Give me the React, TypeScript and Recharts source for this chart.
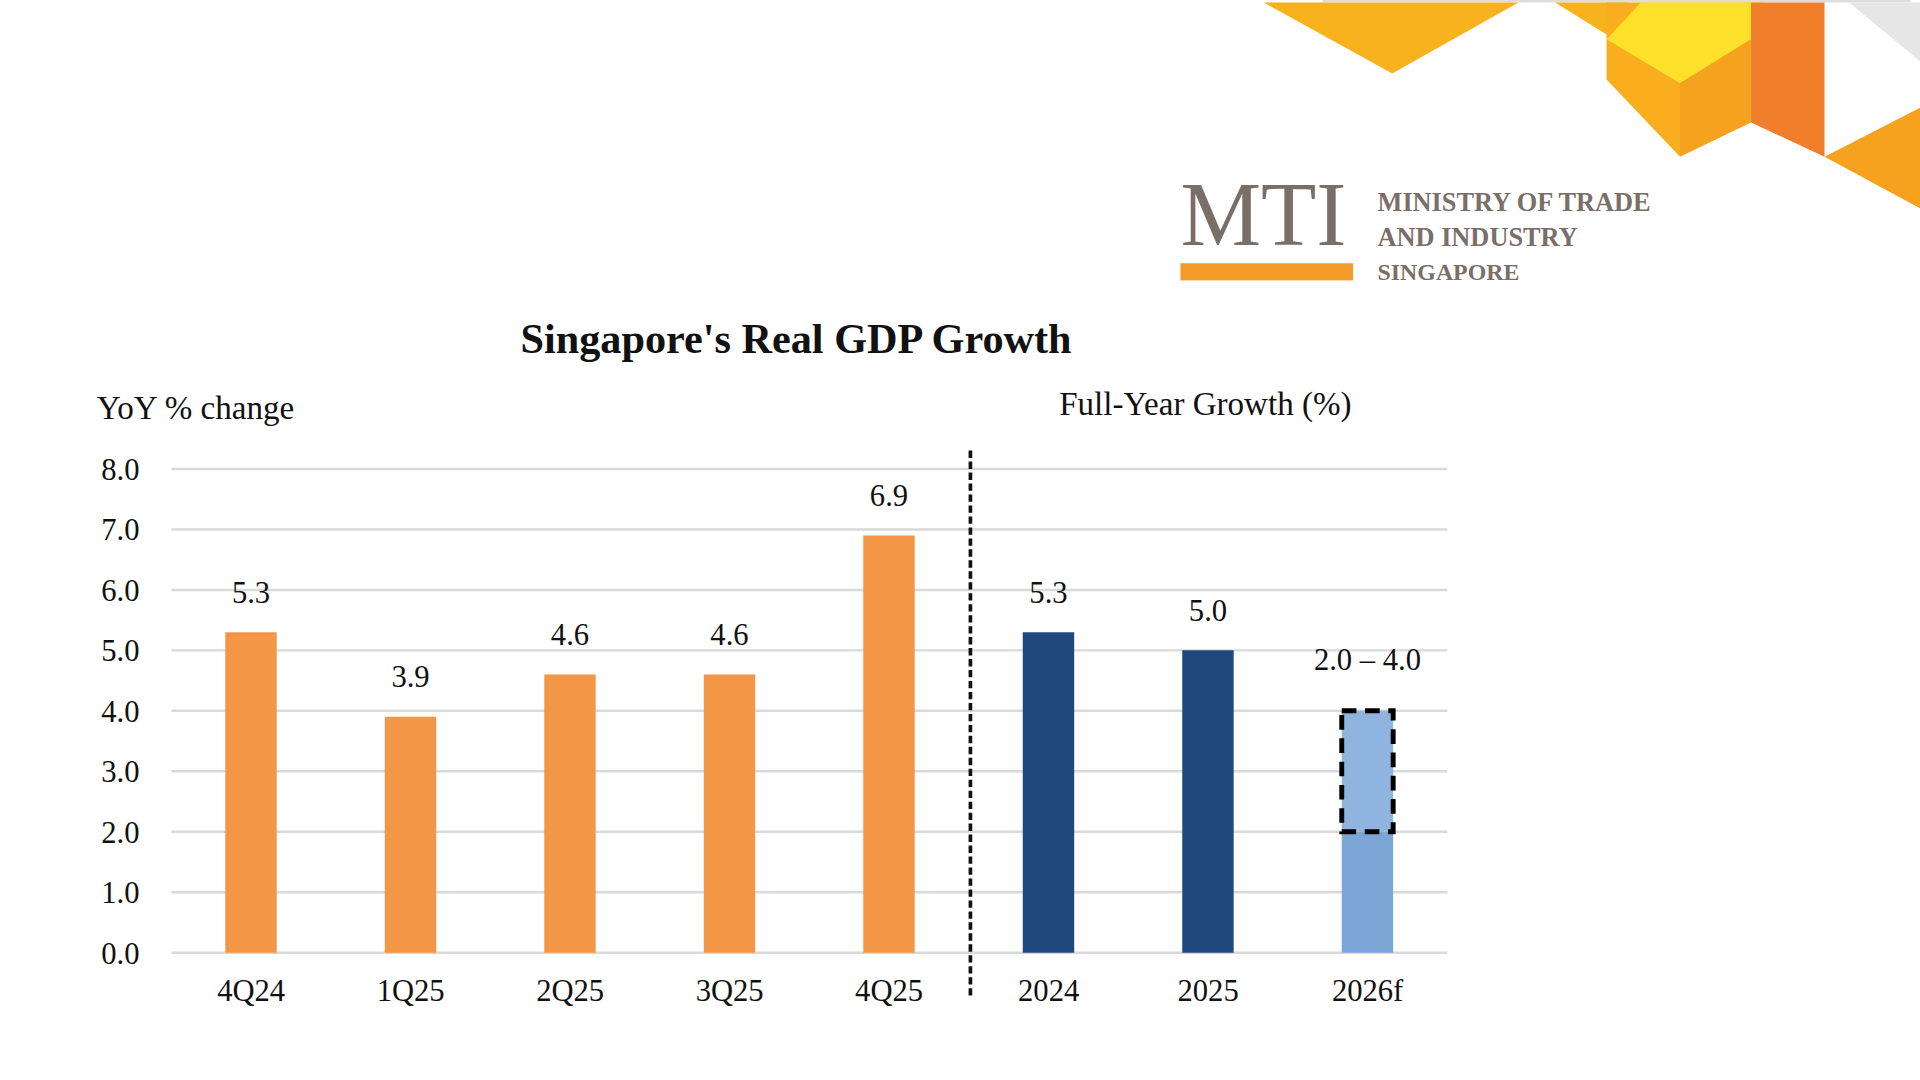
import React from "react";
import { BarChart, Bar, XAxis, YAxis, CartesianGrid, Cell, LabelList } from "recharts";

const categories = ["4Q24", "1Q25", "2Q25", "3Q25", "4Q25", "2024", "2025", "2026f"];
const baseValues = [5.3, 3.9, 4.6, 4.6, 6.9, 5.3, 5.0, 2.0];
const rangeValues = [0, 0, 0, 0, 0, 0, 0, 2.0];
const labelTexts = ["5.3", "3.9", "4.6", "4.6", "6.9", "5.3", "5.0", "2.0 – 4.0"];
const yTicks = [0, 1, 2, 3, 4, 5, 6, 7, 8];
const baseColors = ["#F39646", "#F39646", "#F39646", "#F39646", "#F39646", "#1F497D", "#1F497D", "#7BA6D6"];

const data = categories.map((c, i) => ({ name: c, base: baseValues[i], range: rangeValues[i], label: labelTexts[i] }));
const rangeLabels = data.filter((d) => d.range > 0).map((d) => d.label);
const font = "'Liberation Serif', 'Times New Roman', serif";

const TopLabel = (props: any) => {
  const { x, y, width, value } = props;
  if (rangeLabels.includes(value)) return null;
  return (
    <text x={x + width / 2} y={y - 24} textAnchor="middle" fontFamily={font} fontSize={25} fill="#111">{value}</text>
  );
};
const RangeLabel = (props: any) => {
  const { x, y, width, value } = props;
  if (!rangeLabels.includes(value)) return null;
  return (
    <text x={x + width / 2} y={y - 33} textAnchor="middle" fontFamily={font} fontSize={25} fill="#111">{value}</text>
  );
};

export default function App() {
  return (
    <div style={{ position: "absolute", left: 0, top: 0, width: 1920, height: 1080, overflow: "hidden", background: "#fff" }}>
    <div style={{ position: "absolute", left: 0, top: 0, width: 1568, height: 882, background: "#fff", fontFamily: font, transform: "scale(1.2245)", transformOrigin: "0 0" }}>
      <svg width={1568} height={240} style={{ position: "absolute", left: 0, top: 0 }}>
        <rect x={1080} y={0} width={480} height={2} fill="#ddd" />
        <polygon points="1032,2 1240,2 1137,60" fill="#F7B21E" />
        <polygon points="1270,2 1330,2 1315,30" fill="#F7B21E" />
        <polygon points="1312,2 1430,2 1430,30 1372,128 1312,65" fill="#F8AE1D" />
        <polygon points="1340,2 1440,2 1430,32 1372,68 1312,32" fill="#FDE02A" />
        <polygon points="1372,68 1430,32 1430,100 1372,128" fill="#F5A21E" />
        <polygon points="1430,2 1490,2 1490,128 1430,100" fill="#F17E2B" />
        <polygon points="1510,2 1568,2 1568,50" fill="#E6E6E6" />
        <polygon points="1490,128 1568,88 1568,170" fill="#F6A21F" />
        <text x={964} y={200} fontFamily={font} fontSize={74} fill="#7A6E68">MTI</text>
        <rect x={964} y={215} width={141} height={14} fill="#F39A2A" />
        <text x={1125} y={172} fontFamily={font} fontSize={21.5} fontWeight="bold" fill="#7A6E68">MINISTRY OF TRADE</text>
        <text x={1125} y={201} fontFamily={font} fontSize={21.5} fontWeight="bold" fill="#7A6E68">AND INDUSTRY</text>
        <text x={1125} y={229} fontFamily={font} fontSize={19.5} fontWeight="bold" fill="#7A6E68">SINGAPORE</text>
      </svg>
      <div style={{ position: "absolute", left: 425, top: 257, fontSize: 34.5, fontWeight: "bold", color: "#111" }}>Singapore's Real GDP Growth</div>
      <div style={{ position: "absolute", left: 79, top: 318, fontSize: 27, color: "#111" }}>YoY % change</div>
      <div style={{ position: "absolute", left: 865, top: 315, fontSize: 27, color: "#111" }}>Full-Year Growth (%)</div>
      <div style={{ position: "absolute", left: 0, top: 0 }}>
        <BarChart width={1568} height={880} data={data} margin={{ top: 383, right: 386, bottom: 70, left: 0 }} barSize={42}>
          <CartesianGrid vertical={false} stroke="#d9d9d9" strokeWidth={2} />
          <XAxis dataKey="name" axisLine={false} tickLine={false} tick={{ fontFamily: font, fontSize: 25, fill: "#111" }} dy={14} height={32} />
          <YAxis domain={[0, 8]} ticks={yTicks} width={140} axisLine={false} tickLine={false} tickFormatter={(v: number) => v.toFixed(1)} tick={{ fontFamily: font, fontSize: 25, fill: "#111" }} dx={-18} />
          <Bar dataKey="base" stackId="a" isAnimationActive={false}>
            {data.map((d, i) => <Cell key={i} fill={baseColors[i]} />)}
            <LabelList dataKey="label" content={TopLabel} />
          </Bar>
          <Bar dataKey="range" stackId="a" isAnimationActive={false} fill="#8FB4E0" stroke="#000" strokeWidth={4} strokeDasharray="12 7">
            <LabelList dataKey="label" content={RangeLabel} />
          </Bar>
        </BarChart>
      </div>
      <div style={{ position: "absolute", left: 791, top: 368, height: 445, borderLeft: "3px dashed #111" }} />
    </div>
    </div>
  );
}
